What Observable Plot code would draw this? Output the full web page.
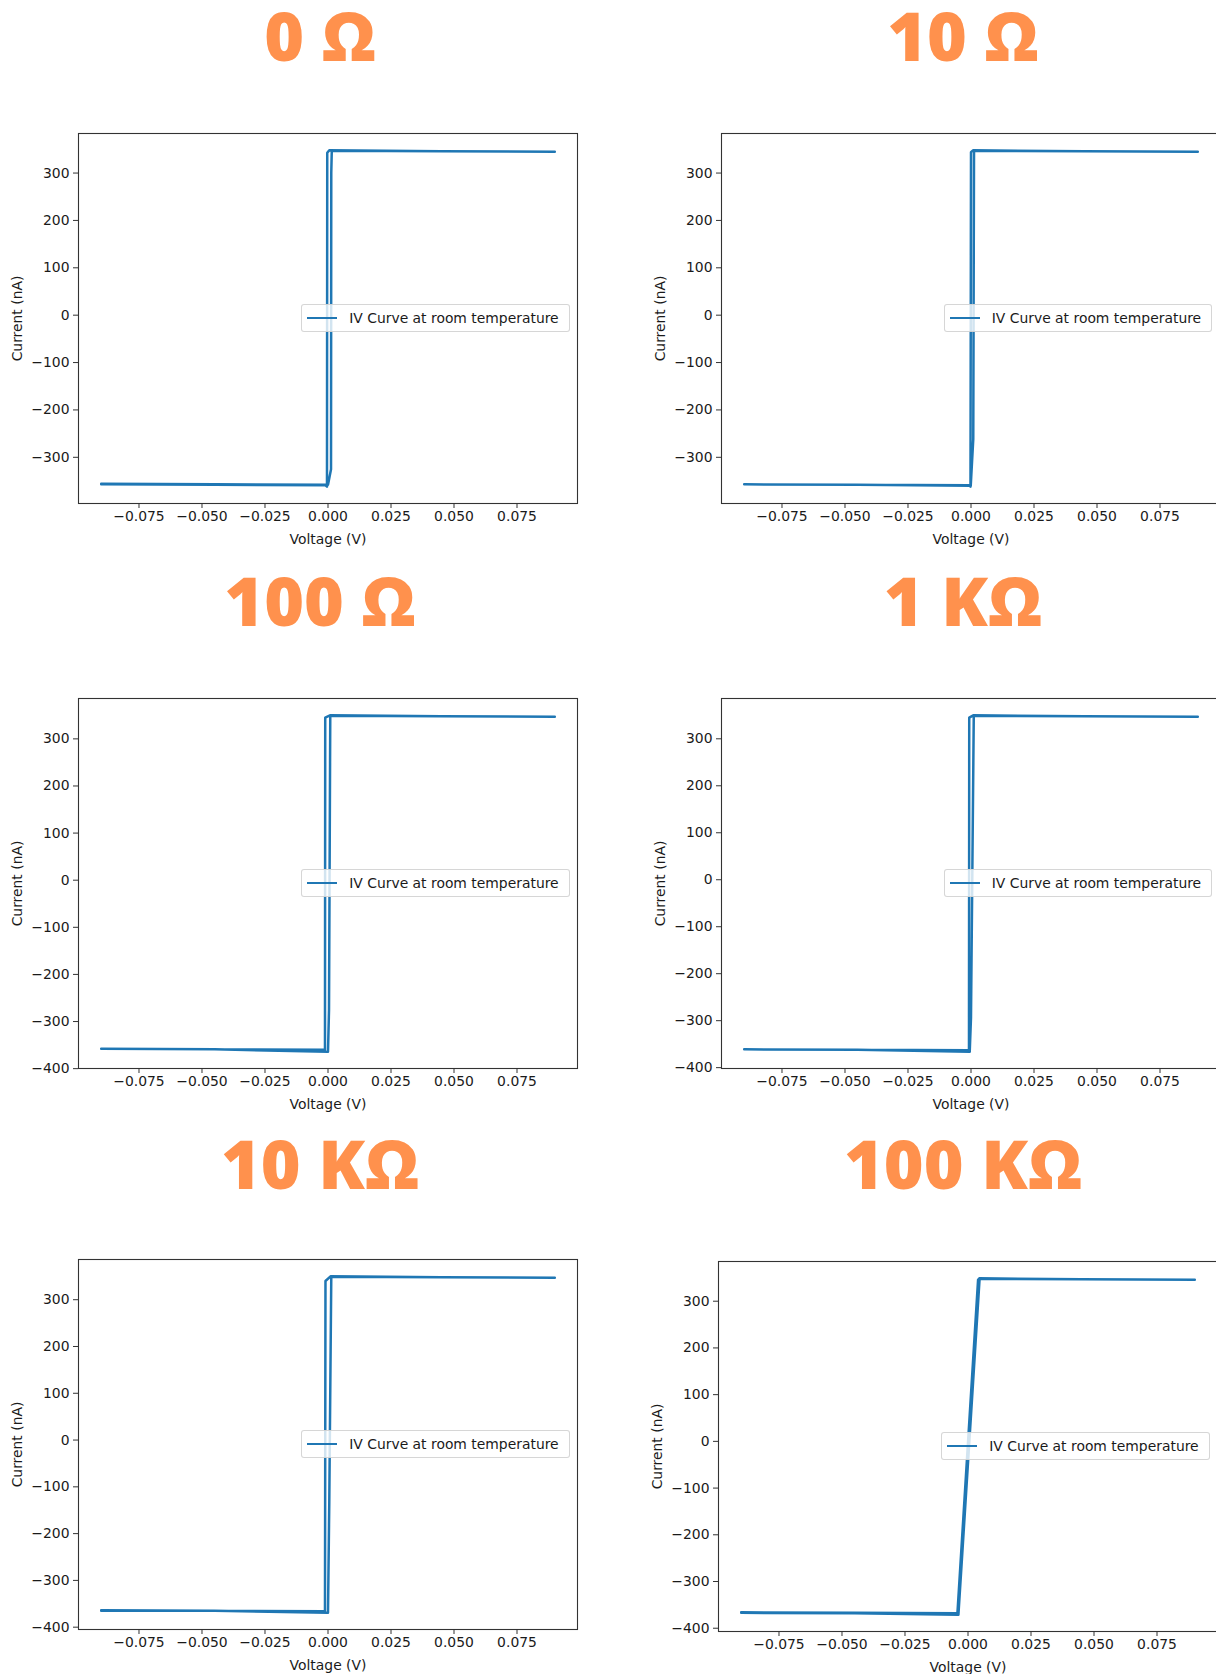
<!DOCTYPE html>
<html>
<head>
<meta charset="utf-8">
<script src="https://cdn.jsdelivr.net/npm/d3@7"></script>
<script src="https://cdn.jsdelivr.net/npm/@observablehq/plot@0.6"></script>
<style>
  html, body { margin: 0; padding: 0; background: #fff; overflow: hidden; }
  #root { position: relative; width: 1216px; height: 1674px; overflow: hidden; background: #fff; }
  .title { position: absolute; font-family: "Open Sans", "DejaVu Sans", sans-serif; font-weight: 800;
           font-size: 68px; color: #FF914D; white-space: nowrap; line-height: 1.4; padding: 0 6px;
           transform: translate(-50%, -50.5px); }
  .panel { position: absolute; width: 600px; height: 450px; }
  .legend { position: absolute; display: flex; align-items: center; box-sizing: border-box; height: 28px;
            padding: 0 10px 0 5px; background: rgba(255,255,255,0.8); border: 1px solid rgba(204,204,204,0.8);
            border-radius: 3px; font-family: "DejaVu Sans", sans-serif; font-size: 13.9px; color: #1a1a1a; white-space: nowrap; }
  .legend .swatch { width: 30px; height: 2.5px; background: #1f77b4; margin-right: 12px; }
</style>
</head>
<body>
<div id="root"></div>
<script>
// ---- data ----
const titles = ["0 Ω", "10 Ω", "100 Ω", "1 KΩ", "10 KΩ", "100 KΩ"];

const voltage_0ohm = [-0.090, -0.045, -0.001, -0.0004, -0.0003, 0.0005, 0.045, 0.090, 0.090, 0.045, 0.0015, 0.0013, 0.0012, 0.0, -0.045, -0.090];
const current_0ohm = [-357, -358, -359, -362, 343, 348, 346, 345, 345, 346, 347, 300, -325, -358, -357, -356];

const voltage_10ohm = [-0.090, -0.045, -0.0008, -0.0002, 0.0000, 0.0008, 0.045, 0.090, 0.090, 0.045, 0.0012, 0.0009, -0.0001, -0.045, -0.090];
const current_10ohm = [-357, -358, -359, -362, 344, 348, 346, 345, 345, 346, 347, -262, -360, -358, -357];

const voltage_100ohm = [-0.090, -0.045, -0.0012, -0.0011, 0.0008, 0.045, 0.090, 0.090, 0.045, 0.0009, 0.0004, 0.0, -0.045, -0.090];
const current_100ohm = [-358, -359, -360, 345, 350, 348, 347, 347, 348, 349, -276, -364, -359, -358];

const voltage_1kohm = [-0.090, -0.045, -0.0008, -0.0007, 0.0009, 0.045, 0.090, 0.090, 0.045, 0.0011, 0.0, -0.0005, -0.045, -0.090];
const current_1kohm = [-361, -362, -363, 345, 350, 348, 347, 347, 348, 349, -293, -366, -362, -361];

const voltage_10kohm = [-0.090, -0.045, -0.0012, -0.0010, 0.0010, 0.045, 0.090, 0.090, 0.045, 0.0013, 0.0005, 0.0, -0.045, -0.090];
const current_10kohm = [-364, -365, -366, 340, 350, 348, 347, 347, 348, 349, -137, -369, -365, -365];

const voltage_100kohm = [-0.090, -0.045, -0.0042, 0.0040, 0.0045, 0.045, 0.090, 0.090, 0.045, 0.0046, -0.0038, -0.045, -0.090];
const current_100kohm = [-366, -367, -368, 346, 349, 347, 346, 346, 347, 348, -371, -368, -367];

const xTicks = [-0.075, -0.050, -0.025, 0.000, 0.025, 0.050, 0.075];
const yTicksShort = [-300, -200, -100, 0, 100, 200, 300];
const yTicksLong = [-400, -300, -200, -100, 0, 100, 200, 300];

const xLabel = "Voltage (V)";
const yLabel = "Current (nA)";
const legendLabel = "IV Curve at room temperature";

// ---- layout ----
const series = [
  {V: voltage_0ohm, I: current_0ohm, yTicks: yTicksShort},
  {V: voltage_10ohm, I: current_10ohm, yTicks: yTicksShort},
  {V: voltage_100ohm, I: current_100ohm, yTicks: yTicksLong},
  {V: voltage_1kohm, I: current_1kohm, yTicks: yTicksLong},
  {V: voltage_10kohm, I: current_10kohm, yTicks: yTicksLong},
  {V: voltage_100kohm, I: current_100kohm, yTicks: yTicksLong}
];
const layout = [
  {left: 0, frameTop: 133, titleX: 320, titleY: 37},
  {left: 642.5, frameTop: 133, titleX: 963, titleY: 37},
  {left: 0, frameTop: 698, titleX: 320, titleY: 601.5},
  {left: 642.5, frameTop: 698, titleX: 963, titleY: 601.5},
  {left: 0, frameTop: 1259, titleX: 320, titleY: 1165},
  {left: 640, frameTop: 1261, titleX: 963, titleY: 1165}
];

const W = 600, H = 450, ML = 78, MR = 23, MT = 20, MB = 60;
const fmtX = d3.format(".3f");
const fmtY = d3.format("d");
const root = document.getElementById("root");

series.forEach((s, k) => {
  const L = layout[k];
  const data = s.V.map((v, i) => ({v, c: s.I[i]}));
  const xr = d3.extent(s.V), yr = d3.extent(s.I);
  const xm = (xr[1] - xr[0]) * 0.05, ym = (yr[1] - yr[0]) * 0.05;

  const chart = Plot.plot({
    width: W, height: H,
    marginLeft: ML, marginRight: MR, marginTop: MT, marginBottom: MB,
    style: {fontFamily: "DejaVu Sans", fontSize: "13.9px", color: "#1a1a1a", background: "transparent", overflow: "visible", maxWidth: "none"},
    x: {domain: [xr[0] - xm, xr[1] + xm]},
    y: {domain: [yr[0] - ym, yr[1] + ym]},
    marks: [
      Plot.line(data, {x: "v", y: "c", stroke: "#1f77b4", strokeWidth: 2.5, strokeLinejoin: "round"}),
      Plot.frame({stroke: "#333", strokeWidth: 1.1}),
      Plot.axisX({ticks: xTicks, tickFormat: fmtX, tickSize: 5, tickPadding: 3, label: null, stroke: "#333"}),
      Plot.axisY({ticks: s.yTicks, tickFormat: fmtY, tickSize: 5, tickPadding: 4, label: null, stroke: "#333"}),
      Plot.text([xLabel], {text: d => d, frameAnchor: "bottom", dy: 36, lineAnchor: "middle", textAnchor: "middle", fill: "#1a1a1a"}),
      Plot.text([yLabel], {text: d => d, frameAnchor: "left", dx: -61, rotate: -90, lineAnchor: "middle", textAnchor: "middle", fill: "#1a1a1a"})
    ]
  });

  const panel = document.createElement("div");
  panel.className = "panel";
  panel.style.left = L.left + "px";
  panel.style.top = (L.frameTop - MT) + "px";
  panel.appendChild(chart);
  root.appendChild(panel);

  const frameH = H - MT - MB;
  const frameRight = L.left + W - MR;
  const lg = document.createElement("div");
  lg.className = "legend";
  lg.innerHTML = `<span class="swatch"></span><span>${legendLabel}</span>`;
  root.appendChild(lg);
  lg.style.left = (frameRight - 7.8 - lg.offsetWidth) + "px";
  lg.style.top = (L.frameTop + frameH / 2 - 14) + "px";

  const t = document.createElement("div");
  t.className = "title";
  t.textContent = titles[k];
  t.style.left = L.titleX + "px";
  t.style.top = L.titleY + "px";
  root.appendChild(t);
});
</script>
</body>
</html>
